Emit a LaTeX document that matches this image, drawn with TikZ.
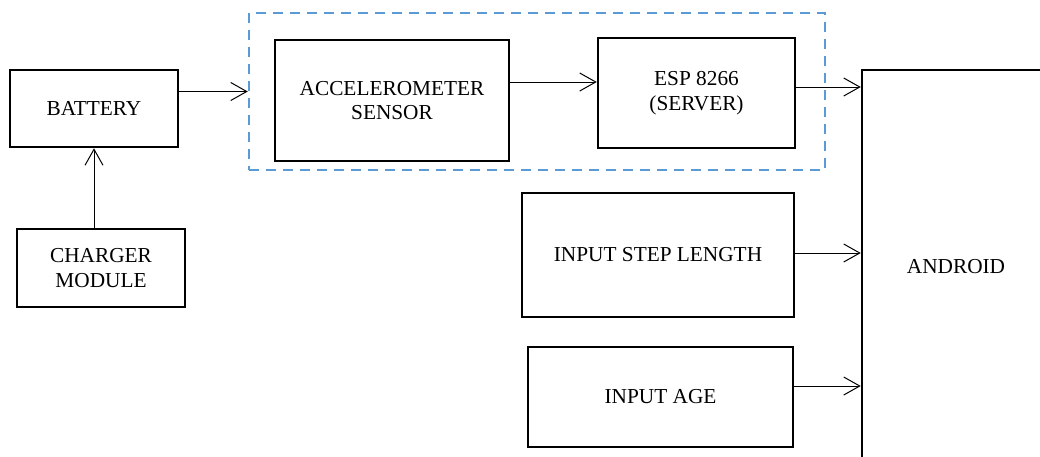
\documentclass[tikz,border=0pt]{standalone}
\usepackage{fontspec}
\setmainfont{Liberation Serif}
\usepackage{tikz}
\usetikzlibrary{arrows.meta, calc}

\definecolor{grpblue}{RGB}{91,155,213}

\tikzset{
    blk/.style={draw=black, line width=2.5pt, inner sep=0pt, align=center,
        font=\fontsize{21.3}{24.8}\selectfont},
    conn/.style={line width=1pt, -{Straight Barb[length=16pt,width=18pt,line width=1pt]}},
}

\begin{document}
\begin{tikzpicture}[x=1pt, y=-1pt]
        \clip (0,0) rectangle (1040,456);
        \useasboundingbox (0,0) rectangle (1040,456);

        % group round sensor and server
        \node[draw=grpblue, line width=2.5pt, dash pattern=on 10pt off 7pt,
            minimum width=576pt, minimum height=157pt] (grp) at (537,91.5) {};

        \node[blk, minimum width=168pt, minimum height=77pt] (bat) at (94,108.5) {BATTERY};
        \node[blk, minimum width=168pt, minimum height=78pt] (chg) at (101,268) {CHARGER\\MODULE};
        \node[blk, minimum width=234pt, minimum height=121pt] (acc) at (392,100.5) {ACCELEROMETER\\SENSOR};
        \node[blk, minimum width=197pt, minimum height=110pt] (esp) at (696.5,93) {ESP 8266\\(SERVER)};
        \node[blk, minimum width=272pt, minimum height=124pt] (step) at (658,255) {INPUT STEP LENGTH};
        \node[blk, minimum width=265pt, minimum height=100pt] (age) at (660.5,397) {INPUT AGE};
        \node[blk, minimum width=188pt, minimum height=394pt] (and) at (956,267) {ANDROID};

        \draw[conn] (bat.south |- chg.north) -- (bat.south);
        \draw[conn] (bat.east |- grp.west) -- (grp.west);
        \draw[conn] (acc.east |- 0,82) -- (esp.west |- 0,82);
        \draw[conn] (esp.east |- 0,87) -- (and.west |- 0,87);
        \draw[conn] (step.east |- 0,253) -- (and.west |- 0,253);
        \draw[conn] (age.east |- 0,386) -- (and.west |- 0,386);
    \end{tikzpicture}
\end{document}
